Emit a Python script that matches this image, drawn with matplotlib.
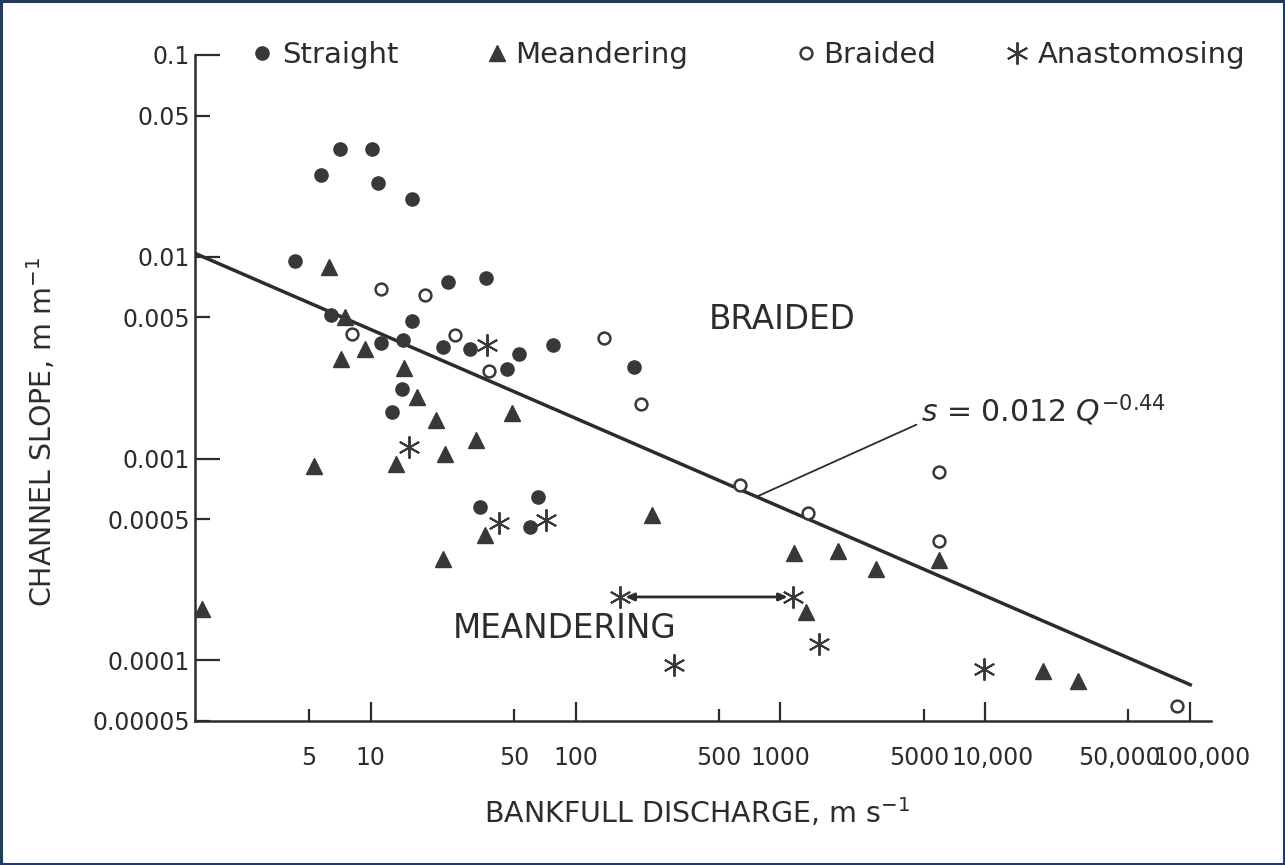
import matplotlib
matplotlib.use("Agg")
import matplotlib.pyplot as plt
from matplotlib.lines import Line2D
from matplotlib.patches import Rectangle
from matplotlib.transforms import ScaledTranslation
import numpy as np

# Bankfull discharge Q (m s^-1) and channel slope s (m m^-1) by channel pattern
straight_q = [4.26, 5.70, 7.06, 10.1, 10.8, 15.8, 23.7, 36.4, 6.38, 15.8, 11.2, 14.3,
              22.4, 30.4, 52.7, 77.3, 46.0, 192, 14.2, 12.7, 34.0, 65.3, 59.7]
straight_s = [0.00955, 0.0253, 0.0344, 0.0344, 0.0233, 0.0194, 0.00751, 0.00787,
              0.00514, 0.00481, 0.00373, 0.00386, 0.00356, 0.00348, 0.00329, 0.00365,
              0.00277, 0.00284, 0.00220, 0.00171, 0.000577, 0.000647, 0.000459]

meander_q = [6.24, 7.47, 9.35, 7.14, 14.5, 16.8, 20.7, 32.5, 23.0, 13.2, 5.27, 48.8,
             35.9, 235, 22.4, 1.50, 1170, 1920, 2940, 5970, 1340, 19200, 28400]
meander_s = [0.00892, 0.00502, 0.00348, 0.00311, 0.00281, 0.00201, 0.00155, 0.00123,
             0.00105, 0.000934, 0.000923, 0.00169, 0.000419, 0.000527, 0.000318,
             0.000180, 0.000340, 0.000348, 0.000284, 0.000315, 0.000173, 8.81e-5, 7.87e-5]

braided_q = [11.2, 18.3, 8.07, 25.7, 37.7, 137, 208, 631, 1370, 5970, 5970, 86500]
braided_s = [0.00693, 0.00647, 0.00414, 0.00409, 0.00271, 0.00395, 0.00186, 0.000743,
             0.000538, 0.000861, 0.000391, 5.90e-5]

anast_q = [36.8, 15.3, 42.1, 71.4, 164, 1156, 1549, 301, 9890]
anast_s = [0.00365, 0.00114, 0.000481, 0.000498, 0.000206, 0.000206, 0.000120,
           9.44e-5, 9.02e-5]

# range of one anastomosing channel (index pair in anast arrays)
anast_range = (4, 5)

# threshold slope between meandering and braided: s = a Q^b
fit_a = 0.012
fit_b = -0.44
fit_q_max = 1.02e5

x_major = [10, 100, 1000, 10000, 100000]
x_major_labels = ["10", "100", "1000", "10,000", "100,000"]
x_minor = [5, 50, 500, 5000, 50000]
x_minor_labels = ["5", "50", "500", "5000", "50,000"]
y_major = [0.1, 0.01, 0.001, 0.0001]
y_major_labels = ["0.1", "0.01", "0.001", "0.0001"]
y_minor = [0.05, 0.005, 0.0005, 0.00005]
y_minor_labels = ["0.05", "0.005", "0.0005", "0.00005"]

W, H = 1285, 865
INK = "#2c2c2c"
MARK = "#383838"

plt.rcParams["font.family"] = ["DejaVu Sans"]
plt.rcParams["mathtext.fontset"] = "dejavusans"

fig = plt.figure(figsize=(W / 100, H / 100), dpi=100)
fig.patch.set_facecolor("white")

# axes box in pixels: left 195, right 1211, top 55, bottom 721
ax = fig.add_axes([195 / W, 1 - 721 / H, (1211 - 195) / W, (721 - 55) / H])
ax.set_xscale("log")
ax.set_yscale("log")
ax.set_xlim(1.385, 126500)
ax.set_ylim(5e-5, 0.1)
ax.set_facecolor("none")

for side in ("top", "right"):
    ax.spines[side].set_visible(False)
for side in ("left", "bottom"):
    ax.spines[side].set_linewidth(1.8)
    ax.spines[side].set_color(INK)

ax.set_xticks(x_major, x_major_labels)
ax.set_xticks(x_minor, x_minor_labels, minor=True)
ax.set_yticks(y_major, y_major_labels)
ax.set_yticks(y_minor, y_minor_labels, minor=True)

ax.tick_params(axis="x", which="major", direction="in", length=14, width=1.6,
               pad=18, labelsize=17, color=INK, labelcolor=INK)
ax.tick_params(axis="x", which="minor", direction="in", length=8.6, width=1.6,
               pad=18, labelsize=17, color=INK, labelcolor=INK)
ax.tick_params(axis="y", which="major", direction="in", length=18, width=1.6,
               pad=3.5, labelsize=17, color=INK, labelcolor=INK)
ax.tick_params(axis="y", which="minor", direction="in", length=10.8, width=1.6,
               pad=3.5, labelsize=17, color=INK, labelcolor=INK)

# nudge the crowded labels at the right end of the discharge axis apart
def nudge(tick, dx_px):
    off = ScaledTranslation(dx_px / 100, 0, fig.dpi_scale_trans)
    tick.label1.set_transform(tick.label1.get_transform() + off)

nudge(ax.xaxis.get_minor_ticks()[3], -4)   # 5000
nudge(ax.xaxis.get_major_ticks()[3], 7)    # 10,000
nudge(ax.xaxis.get_major_ticks()[4], 12)   # 100,000
nudge(ax.xaxis.get_minor_ticks()[4], -9)   # 50,000

# regression / threshold line
q_line = np.logspace(np.log10(ax.get_xlim()[0]), np.log10(fit_q_max), 200)
ax.plot(q_line, fit_a * q_line ** fit_b, color=INK, lw=2.5, solid_capstyle="butt", zorder=2)

# data points
ast = (6, 2, 0)
ax.plot(straight_q, straight_s, ls="none", marker="o", ms=9.5, color=MARK, mec=MARK, zorder=3)
ax.plot(meander_q, meander_s, ls="none", marker="^", ms=11.5, color=MARK, mec=MARK, zorder=3)
ax.plot(braided_q, braided_s, ls="none", marker="o", ms=8.5, mfc="white", mec=MARK, mew=1.8, zorder=3)
ax.plot(anast_q, anast_s, ls="none", marker=ast, ms=16, color=MARK, mew=1.4, zorder=3)

# arrow spanning the anastomosing channel range
i0, i1 = anast_range
ax.annotate("", xy=(anast_q[i1], anast_s[i1]), xytext=(anast_q[i0], anast_s[i0]),
            arrowprops=dict(arrowstyle="<|-|>,head_length=0.5,head_width=0.22",
                            color=INK, lw=2.0, shrinkA=4, shrinkB=4), zorder=2)

# equation label with leader line to the threshold line
q_lead = 764
ax.annotate(r"$s$ = 0.012 $Q^{-0.44}$", xy=(q_lead, fit_a * q_lead ** fit_b),
            xytext=(4870, 0.00173), fontsize=21.5, color=INK, ha="left", va="center",
            arrowprops=dict(arrowstyle="-", color=INK, lw=1.3, shrinkA=0, shrinkB=0,
                            relpos=(-0.02, 0.1)))

ax.text(1023, 0.00486, "BRAIDED", fontsize=23.5, color=INK, ha="center", va="center")
ax.text(88.3, 1.44e-4, "MEANDERING", fontsize=23.5, color=INK, ha="center", va="center")

ax.set_xlabel(r"BANKFULL DISCHARGE, m s$^{-1}$", fontsize=20.5, color=INK)
ax.set_ylabel(r"CHANNEL SLOPE, m m$^{-1}$", fontsize=20.5, color=INK)
ax.xaxis.set_label_coords((697 - 195) / 1016, (721 - 796) / 666)
ax.yaxis.set_label_coords((58 - 195) / 1016, (721 - 432) / 666)

# legend entries along the top
handles = [
    Line2D([], [], ls="none", marker="o", ms=9.5, color=MARK),
    Line2D([], [], ls="none", marker="^", ms=11.5, color=MARK),
    Line2D([], [], ls="none", marker="o", ms=8.5, mfc="white", mec=MARK, mew=1.8),
    Line2D([], [], ls="none", marker=ast, ms=16, color=MARK, mew=1.4),
]
names = ["Straight", "Meandering", "Braided", "Anastomosing"]
centers = [262, 497, 806, 1017]
gaps = [0.34, 0.27, 0.23, 0.37]
hl = 0.7
fs_leg = 21
hl_px = hl * fs_leg * 100 / 72
for h, name, cx, gap in zip(handles, names, centers, gaps):
    fig.legend([h], [name], loc="center left",
               bbox_to_anchor=((cx - hl_px / 2) / W, 1 - 55 / H),
               frameon=False, borderpad=0, borderaxespad=0, handlelength=hl,
               handletextpad=gap, fontsize=fs_leg, labelcolor=INK)

fig.patches.append(Rectangle((0.001, 0.001), 0.998, 0.998, transform=fig.transFigure,
                             fill=False, edgecolor="#1f3c68", lw=2.2))

fig.savefig("out.png", dpi=100)
